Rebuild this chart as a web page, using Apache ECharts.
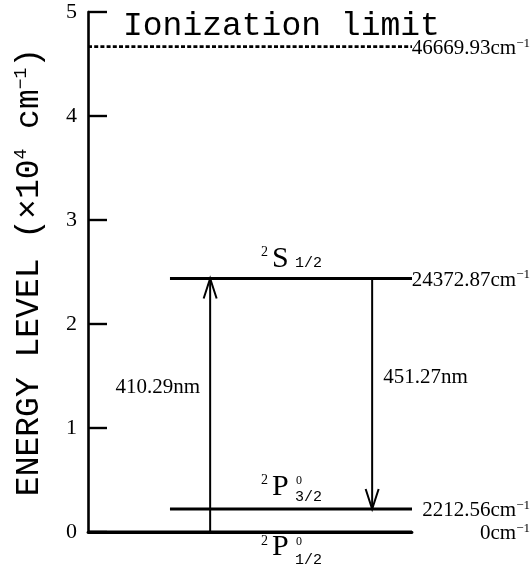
<!DOCTYPE html>
<html>
<head>
<meta charset="utf-8">
<script src="https://cdn.jsdelivr.net/npm/echarts@6/dist/echarts.min.js"></script>
<style>
  html, body { margin: 0; padding: 0; background: #ffffff; }
  #chart { width: 531px; height: 575px; }
</style>
</head>
<body>
<div id="chart"></div>
<script>
// Energy levels in cm^-1 with their printed values
const levelEnergies   = [46669.93, 24372.87, 2212.56, 0];
const levelValueText  = ['46669.93cm', '24372.87cm', '2212.56cm', '0cm'];
const levelKinds      = ['limit', 'term', 'term', 'ground'];
const limitName       = 'Ionization limit';

// Spectroscopic terms: multiplicity, letter, parity, J
const termMultiplicity = ['', '2', '2', '2'];
const termLetter       = ['', 'S', 'P', 'P'];
const termParity       = ['', '', '0', '0'];
const termJ            = ['', '1/2', '3/2', '1/2'];

// Transitions between levels (indices into the level arrays)
const transitionFrom = [3, 1];
const transitionTo   = [1, 2];
const transitionText = ['410.29nm', '451.27nm'];

// Energy axis ticks in units of 10^4 cm^-1
const yTickValues = [0, 1, 2, 3, 4, 5];
const yAxisTitle  = 'ENERGY LEVEL (×10{s|4} cm{s|−1})';

// ---- layout (x axis runs 0..100 across the plot) ----
const X_MAX = 100;
const TERM_LINE_START = 25.3;          // excited levels start right of the axis
const ARROW_X = [37.7, 87.7];
const ARROW_LABEL_SIDE = ['left', 'right'];
const SCALE = 1e4;

const toAxis = e => e / SCALE;

const levelData = levelEnergies.map((e, i) => [
  levelKinds[i] === 'term' ? TERM_LINE_START : 0, toAxis(e)
]);
const termData = levelEnergies.map((e, i) => [(TERM_LINE_START + X_MAX) / 2, toAxis(e)])
  .filter((d, i) => termLetter[i] !== '');
const termIndex = termLetter.map((t, i) => i).filter(i => termLetter[i] !== '');
const arrowData = transitionFrom.map((f, k) => [
  ARROW_X[k], toAxis(levelEnergies[f]), toAxis(levelEnergies[transitionTo[k]])
]);

const SERIF = '"Liberation Serif", "DejaVu Serif", serif';
const MONO = '"Liberation Mono", "DejaVu Sans Mono", monospace';

function txt(text, x, y, font, align, extra) {
  return {
    type: 'text',
    style: Object.assign({
      text: text, x: x, y: y, font: font, fill: '#000',
      align: align, textAlign: align,
      verticalAlign: 'middle', textVerticalAlign: 'middle'
    }, extra || {})
  };
}

function renderLevel(params, api) {
  const i = params.dataIndex;
  const e = api.value(1);
  const p0 = api.coord([api.value(0), e]);
  const p1 = api.coord([X_MAX, e]);
  const isLimit = levelKinds[i] === 'limit';
  const children = [{
    type: 'line',
    shape: { x1: p0[0], y1: p0[1], x2: p1[0], y2: p1[1] },
    style: { stroke: '#000', lineWidth: isLimit ? 2.6 : 2.8, lineDash: isLimit ? [4, 2.2] : null }
  }];
  // printed energy, right-aligned at the edge of the canvas
  children.push(txt('{v|' + levelValueText[i] + '}{s|−1}', api.getWidth() - 1, p1[1] + 1, '21px ' + SERIF, 'right', {
    rich: {
      v: { font: '21px ' + SERIF, fill: '#000', verticalAlign: 'bottom', lineHeight: 22 },
      s: { font: '13px ' + SERIF, fill: '#000', verticalAlign: 'top', lineHeight: 13 }
    }
  }));
  if (isLimit) {
    children.push(txt(limitName, p0[0] + 35, p0[1] - 20, '33px ' + MONO, 'left'));
  }
  return { type: 'group', children: children };
}

function renderTerm(params, api) {
  const i = termIndex[params.dataIndex];
  const c = api.coord([api.value(0), api.value(1)]);
  const below = levelKinds[i] === 'ground';
  const hasParity = termParity[i] !== '';
  const cy = below ? c[1] + 15.5 : c[1] - (hasParity ? 22 : 19.5);
  const lx = c[0] - 19;
  const children = [
    txt(termMultiplicity[i], lx - 4, cy - 6.5, '14px ' + SERIF, 'right'),
    txt(termLetter[i], lx, cy, '30px ' + SERIF, 'left')
  ];
  if (hasParity) children.push(txt(termParity[i], lx + 24, cy - 6, '12px ' + SERIF, 'left'));
  children.push(txt(termJ[i], lx + 23, cy + (hasParity ? (below ? 12.5 : 10) : 4.5), '15px ' + MONO, 'left'));
  return { type: 'group', children: children };
}

function renderArrow(params, api) {
  const k = params.dataIndex;
  const x = api.value(0);
  const a = api.coord([x, api.value(1)]);
  const b = api.coord([x, api.value(2)]);
  const dir = b[1] < a[1] ? -1 : 1;
  const lower = Math.max(a[1], b[1]), upper = Math.min(a[1], b[1]);
  const ly = lower - (lower - upper) * 0.57;
  const left = ARROW_LABEL_SIDE[k] === 'left';
  return {
    type: 'group',
    children: [
      { type: 'line', shape: { x1: a[0], y1: a[1], x2: b[0], y2: b[1] },
        style: { stroke: '#000', lineWidth: 2 } },
      { type: 'polyline', shape: { points: [[b[0] - 6.5, b[1] - dir * 20], [b[0], b[1]], [b[0] + 6.5, b[1] - dir * 20]] },
        style: { stroke: '#000', lineWidth: 2, fill: null } },
      txt(transitionText[k], left ? a[0] - 10 : a[0] + 11, ly, '21px ' + SERIF, left ? 'right' : 'left')
    ]
  };
}

const chart = echarts.init(document.getElementById('chart'), null, { renderer: 'canvas' });
chart.setOption({
  animation: false,
  backgroundColor: '#ffffff',
  grid: { left: 88, top: 12, right: 119, bottom: 43, containLabel: false, outerBoundsMode: 'none' },
  xAxis: {
    type: 'value', min: 0, max: X_MAX,
    axisLine: { show: true, lineStyle: { color: '#000', width: 2.8 } },
    axisTick: { show: false }, axisLabel: { show: false }, splitLine: { show: false }
  },
  yAxis: {
    type: 'value', min: yTickValues[0], max: yTickValues[yTickValues.length - 1], interval: 1,
    name: yAxisTitle,
    nameLocation: 'middle', nameRotate: 90, nameGap: 42,
    nameTextStyle: {
      fontFamily: MONO, fontSize: 33, color: '#000', lineHeight: 34,
      rich: { s: { fontFamily: MONO, fontSize: 18, color: '#000', verticalAlign: 'top', lineHeight: 18 } }
    },
    axisLine: { show: true, lineStyle: { color: '#000', width: 2.6 } },
    axisTick: { show: true, inside: true, length: 19, lineStyle: { color: '#000', width: 2.4 } },
    axisLabel: {
      margin: 11, fontFamily: SERIF, fontSize: 22, color: '#000',
      formatter: v => yTickValues.includes(v) ? String(v) : ''
    },
    splitLine: { show: false }
  },
  series: [
    { type: 'custom', name: 'levels', data: levelData, encode: { x: 0, y: 1 }, renderItem: renderLevel, clip: false, silent: true },
    { type: 'custom', name: 'terms', data: termData, encode: { x: 0, y: 1 }, renderItem: renderTerm, clip: false, silent: true },
    { type: 'custom', name: 'transitions', data: arrowData, encode: { x: 0, y: [1, 2] }, renderItem: renderArrow, clip: false, silent: true }
  ]
});
</script>
</body>
</html>
